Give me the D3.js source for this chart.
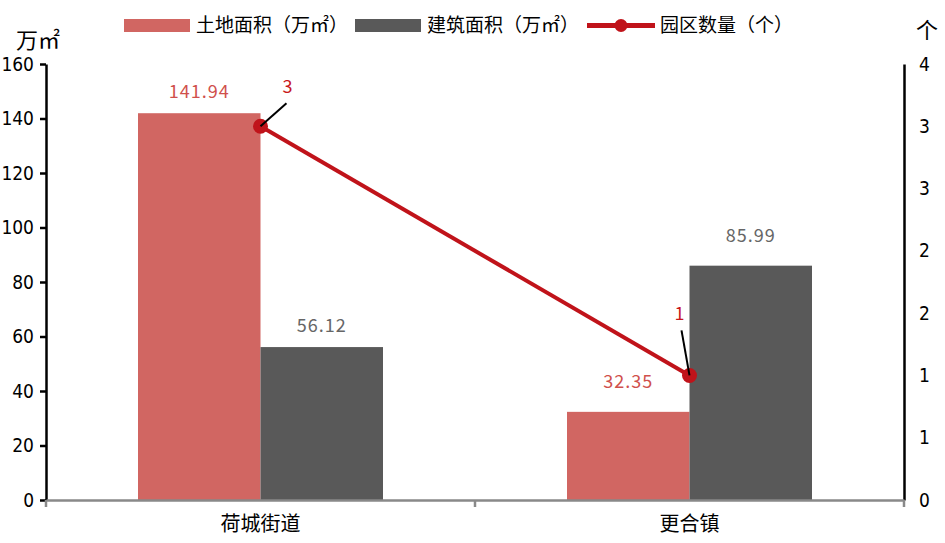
<!DOCTYPE html>
<html>
<head>
<meta charset="utf-8">
<script src="https://cdn.jsdelivr.net/npm/d3@7"></script>
<style>
  body { margin: 0; background: #fff; }
  .num { font-family: "Liberation Sans Narrow", "DejaVu Sans Condensed", "Liberation Sans", sans-serif; font-size: 19px; fill: #000; }
  .cjk { font-family: "Noto Sans CJK SC", sans-serif; }
</style>
</head>
<body>
<div id="chart"></div>
<script>
// Data.
var categories = ["荷城街道", "更合镇"];
var landArea = [141.94, 32.35];      // 土地面积（万㎡）
var buildArea = [56.12, 85.99];      // 建筑面积（万㎡）
var parkCount = [3, 1];              // 园区数量（个）
var leftTicks = [0, 20, 40, 60, 80, 100, 120, 140, 160];
var rightTicks = [0, 0.5, 1, 1.5, 2, 2.5, 3, 3.5];

var width = 945, height = 543;
var margin = {top: 64, right: 41, bottom: 43, left: 46};

var svg = d3.select("#chart")
    .append("svg")
    .attr("width", width)
    .attr("height", height);

// Scales.
var x = d3.scaleBand()
    .domain(categories)
    .range([margin.left, width - margin.right])
    .paddingInner(0);

var xSub = d3.scaleBand()
    .domain(["land", "build"])
    .range([0, x.bandwidth()])
    .paddingOuter(0.751);

var yL = d3.scaleLinear().domain([0, 160]).range([height - margin.bottom, margin.top]);
var yR = d3.scaleLinear().domain([0, 3.5]).range([height - margin.bottom, margin.top]);

var red = "#d16662", gray = "#595959", lineRed = "#c0131a";

// Bars.
var rows = categories.map(function(c, i) {
    return {cat: c, land: landArea[i], build: buildArea[i], count: parkCount[i], i: i};
});

var groups = svg.append("g").selectAll("g")
    .data(rows)
    .join("g")
    .attr("transform", function(d) { return "translate(" + x(d.cat) + ",0)"; });

groups.append("rect")
    .attr("x", xSub("land"))
    .attr("width", xSub.bandwidth())
    .attr("y", function(d) { return yL(d.land); })
    .attr("height", function(d) { return yL(0) - yL(d.land); })
    .attr("fill", red);

groups.append("rect")
    .attr("x", xSub("build"))
    .attr("width", xSub.bandwidth())
    .attr("y", function(d) { return yL(d.build); })
    .attr("height", function(d) { return yL(0) - yL(d.build); })
    .attr("fill", gray);

// Bar labels.
var gap = [15, 24];
groups.append("text")
    .attr("class", "cjk")
    .attr("x", xSub("land") + xSub.bandwidth() / 2)
    .attr("y", function(d) { return yL(d.land) - gap[d.i]; })
    .attr("text-anchor", "middle")
    .attr("font-size", 18)
    .attr("letter-spacing", 1)
    .attr("fill", "#d0504c")
    .text(function(d) { return d.land.toFixed(2); });

groups.append("text")
    .attr("class", "cjk")
    .attr("x", xSub("build") + xSub.bandwidth() / 2)
    .attr("y", function(d) { return yL(d.build) - gap[d.i]; })
    .attr("text-anchor", "middle")
    .attr("font-size", 18)
    .attr("letter-spacing", 1)
    .attr("fill", "#666")
    .text(function(d) { return d.build.toFixed(2); });

// Axes.
var axisL = svg.append("g")
    .attr("class", "num")
    .attr("transform", "translate(" + margin.left + ",0)")
    .call(d3.axisLeft(yL).tickValues(leftTicks).tickSize(6).tickPadding(6).tickSizeOuter(0));
axisL.select(".domain").attr("stroke", "#000").attr("stroke-width", 2.5);
axisL.selectAll(".tick line").attr("stroke", "#000").attr("stroke-width", 2.5);

var axisR = svg.append("g")
    .attr("class", "num")
    .attr("transform", "translate(" + (width - margin.right) + ",0)")
    .call(d3.axisRight(yR).tickValues(rightTicks).tickSize(0).tickPadding(15)
        .tickFormat(function(d) { return Math.round(d); }));
axisR.select(".domain").attr("stroke", "#000").attr("stroke-width", 2.5);

var axisB = svg.append("g")
    .attr("transform", "translate(0," + (height - margin.bottom) + ")")
    .call(d3.axisBottom(x).tickSize(0).tickPadding(17));
axisB.select(".domain").attr("stroke", "#898989").attr("stroke-width", 2.5);
axisB.selectAll("text")
    .attr("class", "cjk")
    .attr("font-size", 20)
    .attr("fill", "#000");
// category boundary ticks
var bounds = [x.range()[0], x(categories[1]), x.range()[1]];
axisB.selectAll(".bound")
    .data(bounds)
    .join("line")
    .attr("x1", function(d) { return d; })
    .attr("x2", function(d) { return d; })
    .attr("y1", 0)
    .attr("y2", 7)
    .attr("stroke", "#898989")
    .attr("stroke-width", 2.5);

// Axis titles.
svg.append("text").attr("class", "cjk")
    .attr("x", 16).attr("y", 48)
    .attr("font-size", 22)
    .text("万㎡");
svg.append("text").attr("class", "cjk")
    .attr("x", 916).attr("y", 38)
    .attr("font-size", 22)
    .text("个");

// Line series.
var line = d3.line()
    .x(function(d) { return x(d.cat) + x.bandwidth() / 2; })
    .y(function(d) { return yR(d.count); });

svg.append("path")
    .datum(rows)
    .attr("d", line)
    .attr("fill", "none")
    .attr("stroke", lineRed)
    .attr("stroke-width", 4);

svg.append("g").selectAll("circle")
    .data(rows)
    .join("circle")
    .attr("cx", function(d) { return x(d.cat) + x.bandwidth() / 2; })
    .attr("cy", function(d) { return yR(d.count); })
    .attr("r", 7.5)
    .attr("fill", lineRed);

// Line labels with leader lines.
var leader = [{dx: 26, dy: -23, lx: 27, ly: -33}, {dx: -8, dy: -45, lx: -10, ly: -55}];
rows.forEach(function(d, i) {
    var cx = x(d.cat) + x.bandwidth() / 2, cy = yR(d.count);
    svg.append("line")
        .attr("x1", cx).attr("y1", cy)
        .attr("x2", cx + leader[i].dx).attr("y2", cy + leader[i].dy)
        .attr("stroke", "#000").attr("stroke-width", 2);
    svg.append("text").attr("class", "cjk")
        .attr("x", cx + leader[i].lx).attr("y", cy + leader[i].ly)
        .attr("text-anchor", "middle")
        .attr("font-size", 18)
        .attr("fill", "#c8171c")
        .text(d.count);
});

// Legend.
var legend = svg.append("g").attr("class", "cjk").attr("font-size", 19);
legend.append("rect").attr("x", 124).attr("y", 19).attr("width", 66).attr("height", 13).attr("fill", red);
legend.append("text").attr("x", 196).attr("y", 32).text("土地面积（万㎡）");
legend.append("rect").attr("x", 355).attr("y", 19).attr("width", 66).attr("height", 13).attr("fill", gray);
legend.append("text").attr("x", 427).attr("y", 32).text("建筑面积（万㎡）");
legend.append("line").attr("x1", 587).attr("x2", 655).attr("y1", 25.5).attr("y2", 25.5)
    .attr("stroke", lineRed).attr("stroke-width", 5);
legend.append("circle").attr("cx", 621).attr("cy", 25.5).attr("r", 6.5).attr("fill", lineRed);
legend.append("text").attr("x", 660).attr("y", 32).text("园区数量（个）");
</script>
</body>
</html>
